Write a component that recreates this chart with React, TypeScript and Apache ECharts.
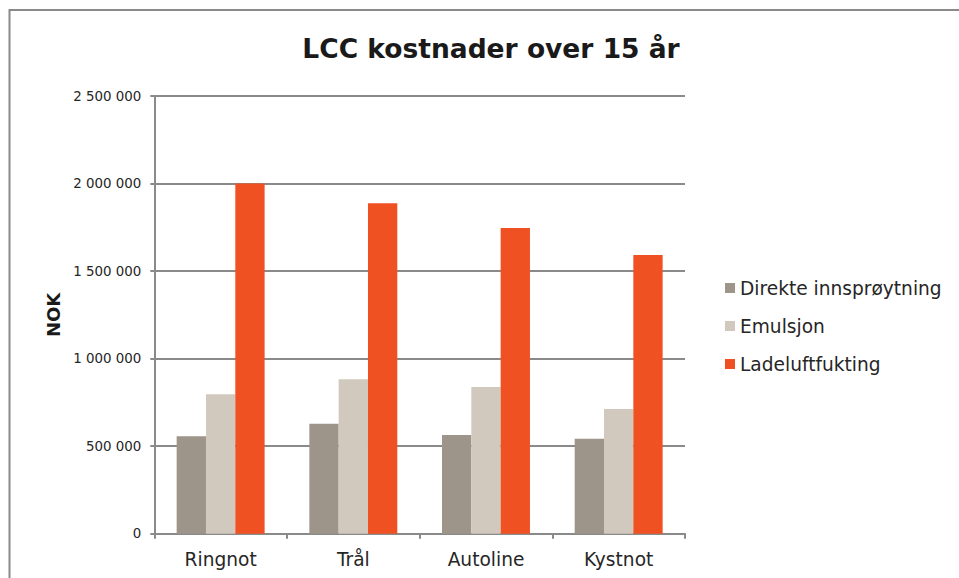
import React, { useEffect, useRef } from "react";
import * as echarts from "echarts";

const categories = ["Ringnot", "Trål", "Autoline", "Kystnot"];
const seriesNames = ["Direkte innsprøytning", "Emulsjon", "Ladeluftfukting"];
const direkte = [556000, 628000, 564000, 543000];
const emulsjon = [796000, 882000, 838000, 712000];
const ladeluft = [2000000, 1887000, 1746000, 1592000];
const colors = ["#9e958a", "#d1c9be", "#f05123"];
const titleText = "LCC kostnader over 15 år";
const yName = "NOK";

const fmt = (v: number) => String(v).replace(/\B(?=(\d{3})+(?!\d))/g, " ");

export default function App() {
  const ref = useRef<HTMLDivElement>(null);
  useEffect(() => {
    if (!ref.current) return;
    const chart = echarts.init(ref.current, undefined, { renderer: "svg" });
    const font = "'DejaVu Sans', Verdana, sans-serif";
    const data = [direkte, emulsjon, ladeluft];
    chart.setOption({
      animation: false,
      backgroundColor: "#ffffff",
      textStyle: { fontFamily: font },
      title: {
        text: titleText,
        left: 486,
        textAlign: "center",
        top: 30,
        textStyle: { fontFamily: font, fontSize: 26.5, fontWeight: "bold", color: "#1a1a1a" },
      },
      graphic: [
        {
          type: "polyline",
          shape: { points: [[9.5, 578], [9.5, 10], [959, 10]] },
          style: { stroke: "#8a8a8a", lineWidth: 2, fill: "none" },
          silent: true,
        },
      ],
      legend: {
        orient: "vertical",
        left: 725,
        top: 278,
        padding: 0,
        itemWidth: 10,
        itemHeight: 10,
        itemGap: 18,
        icon: "rect",
        textStyle: { fontFamily: font, fontSize: 18.6, color: "#262626", lineHeight: 20 },
        data: seriesNames,
      },
      grid: { left: 154.3, right: 274, top: 96, bottom: 44.3, containLabel: false },
      xAxis: {
        type: "category",
        data: categories,
        boundaryGap: true,
        axisLine: { lineStyle: { color: "#8a8a8a", width: 2 } },
        axisTick: { show: true, length: 5, lineStyle: { color: "#8a8a8a", width: 2 } },
        axisLabel: { fontFamily: font, fontSize: 18.6, color: "#262626", margin: 16 },
      },
      yAxis: {
        type: "value",
        min: 0,
        max: 2500000,
        interval: 500000,
        name: yName,
        nameLocation: "middle",
        nameRotate: 90,
        nameGap: 90,
        nameTextStyle: { fontFamily: font, fontSize: 18, fontWeight: "bold", color: "#1a1a1a" },
        axisLine: { show: true, lineStyle: { color: "#8a8a8a", width: 2 } },
        axisTick: { show: true, length: 4, lineStyle: { color: "#8a8a8a", width: 2 } },
        axisLabel: { fontFamily: font, fontSize: 13.4, color: "#262626", margin: 13, formatter: fmt },
        splitLine: { show: true, lineStyle: { color: "#8a8a8a", width: 2 } },
      },
      series: seriesNames.map((name, i) => ({
        name,
        type: "bar",
        data: data[i],
        barGap: "0%",
        barCategoryGap: "33.7%",
        itemStyle: { color: colors[i] },
      })),
    });
    return () => chart.dispose();
  }, []);
  return (
    <div
      ref={ref}
      style={{ position: "absolute", left: 0, top: 0, width: 959, height: 578 }}
    />
  );
}
